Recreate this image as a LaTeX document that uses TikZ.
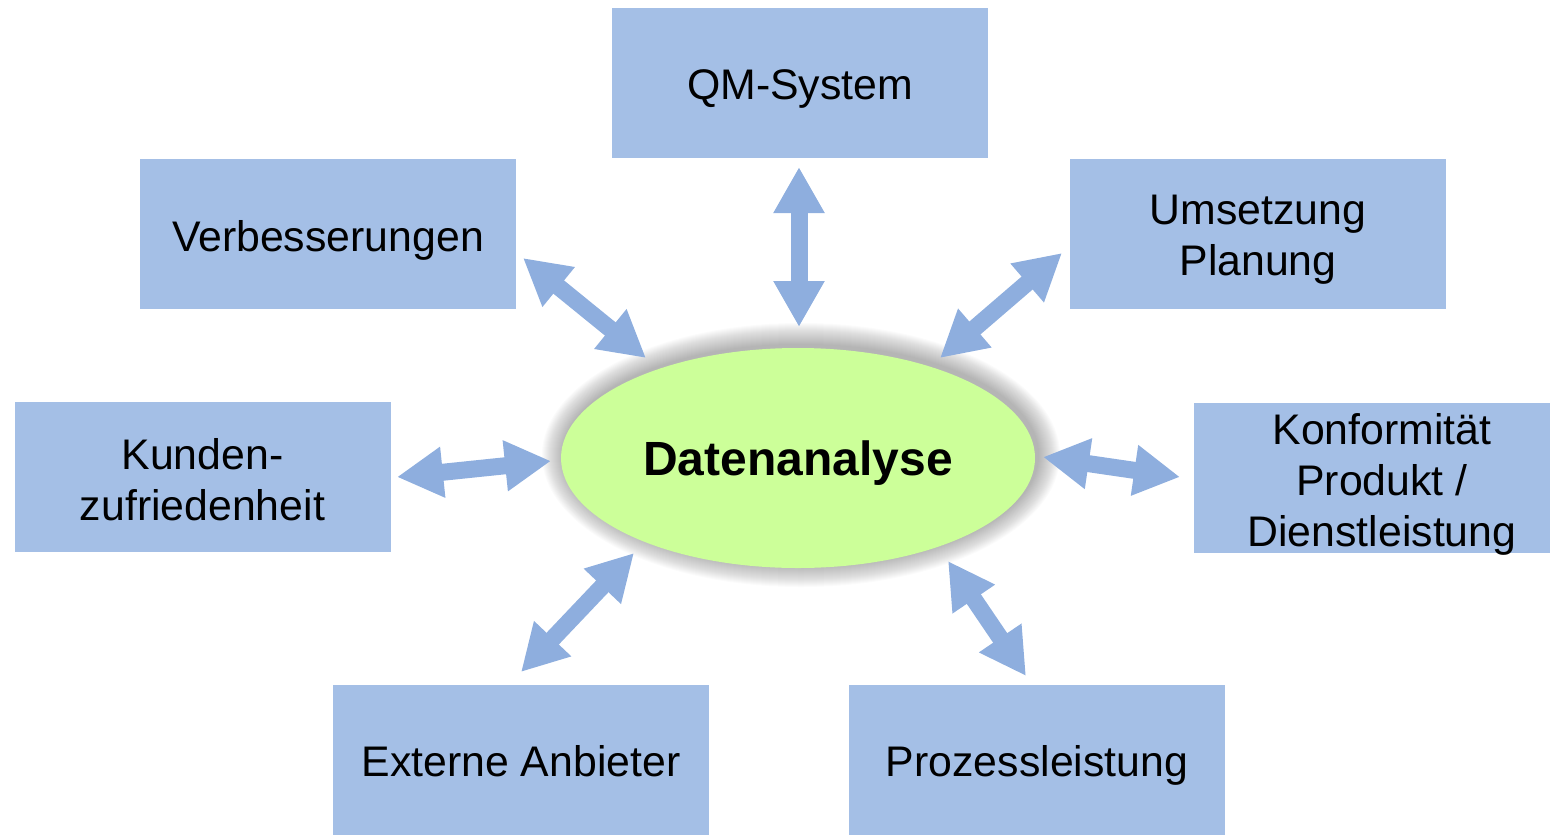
\documentclass[tikz,border=0pt]{standalone}
\usepackage{fontspec}
\setmainfont{Liberation Sans}
\usetikzlibrary{arrows.meta,shapes.geometric}
\definecolor{boxblue}{HTML}{A4BFE6}
\definecolor{arrblue}{HTML}{8EAEDE}
\definecolor{ellgreen}{HTML}{CCFF99}
\begin{document}
\begin{tikzpicture}[x=1pt,y=-1pt,
  box/.style={fill=boxblue, draw=none, minimum width=376pt, minimum height=150pt, inner sep=0pt},
  txt/.style={align=center, inner sep=0pt, font=\fontsize{42.8}{51}\selectfont},
  center/.style={ellipse, fill=ellgreen, draw=none, minimum width=474pt, minimum height=220pt,
    inner sep=0pt},
  ctxt/.style={inner sep=0pt, font=\fontsize{48}{56}\selectfont\bfseries},
  dbl/.style={draw=arrblue, line width=17pt,
    {Triangle[width=48pt,length=46pt]}-{Triangle[width=48pt,length=46pt]}}]
\useasboundingbox (0,0) rectangle (1550,836);
% boxes
\node[box, label={[txt,yshift=-6pt]center:QM-System}] (qm) at (800,83) {};
\node[box, label={[txt,yshift=-6pt]center:Verbesserungen}] (verb) at (328,234) {};
\node[box, label={[txt,yshift=-6pt]center:{Umsetzung\\Planung}}] (ums) at (1258,234) {};
\node[box, label={[txt,yshift=-3pt]center:{Kunden-\\zufriedenheit}}] (kun) at (202.5,476.5) {};
\node[box, label={[txt,yshift=-6pt]center:{Konformität\\Produkt /\\Dienstleistung}}] (konf) at (1382,478) {};
\node[box, label={[txt,yshift=-1pt]center:Externe Anbieter}] (ext) at (521,760) {};
\node[box, label={[txt,yshift=-5pt]center:Prozessleistung}] (proz) at (1037,760) {};
% shadow of ellipse
\foreach \i in {1,...,22}
  \fill[black, opacity=0.016] (801,455) ellipse [x radius={237pt+\i pt}, y radius={110pt+\i pt}];
\node[center, label={[ctxt,yshift=-5pt]center:Datenanalyse}] (da) at (798,458) {};
% arrow end points
\coordinate (qmA) at (799,167);   \coordinate (qmB) at (799,327);
\coordinate (veA) at (523,258);   \coordinate (veB) at (646,358);
\coordinate (umA) at (1062,253);  \coordinate (umB) at (940,358);
\coordinate (kuA) at (397,477);   \coordinate (kuB) at (551,461);
\coordinate (koA) at (1180,477);  \coordinate (koB) at (1043,457);
\coordinate (exA) at (521,672);   \coordinate (exB) at (634,553);
\coordinate (prA) at (1026,676);  \coordinate (prB) at (948,561);
% arrows
\draw[dbl] (qmA) -- (qmB);
\draw[dbl] (veA) -- (veB);
\draw[dbl] (umA) -- (umB);
\draw[dbl] (kuA) -- (kuB);
\draw[dbl] (koA) -- (koB);
\draw[dbl] (exA) -- (exB);
\draw[dbl] (prA) -- (prB);
\end{tikzpicture}
\end{document}
